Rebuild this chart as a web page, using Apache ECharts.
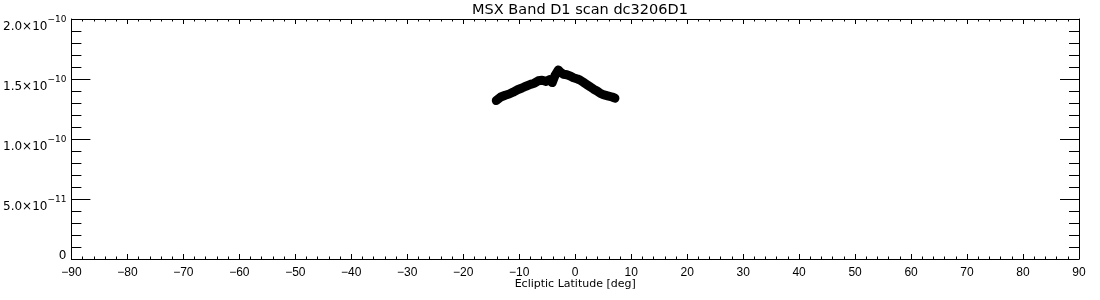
<!DOCTYPE html>
<html><head><meta charset="utf-8">
<script src="https://cdn.jsdelivr.net/npm/echarts@6/dist/echarts.min.js"></script>
<style>html,body{margin:0;padding:0;background:#fff}#c{width:1100px;height:300px}</style>
</head><body><div id="c"></div>
<script>
const titleText = 'MSX Band D1 scan dc3206D1';
const xAxisName = 'Ecliptic Latitude [deg]';
const latitude = [-14.1,-13.3,-12.5,-11.8,-11.1,-10.3,-9.5,-8.8,-8.0,-7.3,-6.6,-5.9,-5.2,-4.6,-4.1,-3.6,-3.0,-2.6,-2.1,-1.5,-0.9,-0.3,0.4,0.9,1.4,2.0,2.7,3.3,3.9,4.5,5.0,5.8,6.6,7.1];
const flux = [1.32e-10,1.35e-10,1.365e-10,1.375e-10,1.39e-10,1.41e-10,1.425e-10,1.44e-10,1.455e-10,1.465e-10,1.485e-10,1.49e-10,1.48e-10,1.495e-10,1.47e-10,1.53e-10,1.575e-10,1.555e-10,1.54e-10,1.535e-10,1.525e-10,1.51e-10,1.5e-10,1.49e-10,1.475e-10,1.455e-10,1.435e-10,1.415e-10,1.4e-10,1.38e-10,1.37e-10,1.36e-10,1.35e-10,1.34e-10];
const yTickMantissa = ['0','5.0×10','1.0×10','1.5×10','2.0×10'];
const yTickExponent = ['','−11','−10','−10','−10'];

const data = latitude.map((x, i) => [x, flux[i]]);
const font = 'DejaVu Sans';
const chart = echarts.init(document.getElementById('c'), null, {renderer: 'canvas'});
const axisCommon = {
  axisLine: {show: true, onZero: false, lineStyle: {color: '#000', width: 1}},
  splitLine: {show: false},
};
chart.setOption({
  animation: false,
  backgroundColor: '#fff',
  title: {
    text: titleText, left: 575, top: -2, textAlign: 'center',
    textStyle: {fontFamily: font, fontSize: 14.5, fontWeight: 'normal', color: '#000'}
  },
  grid: {left: 71, right: 21, top: 19, bottom: 41, containLabel: false},
  xAxis: [
    Object.assign({
      type: 'value', min: -90, max: 90, interval: 10, position: 'bottom',
      axisTick: {show: true, inside: true, length: 5, lineStyle: {color: '#000'}},
      minorTick: {show: true, splitNumber: 5, length: 2.5, lineStyle: {color: '#000'}},
      axisLabel: {
        margin: 8, fontFamily: 'Liberation Sans', fontSize: 12, color: '#000',
        formatter: v => (v < 0 ? '\u2212' + Math.abs(v) : String(v))
      },
      name: xAxisName, nameLocation: 'middle', nameGap: 20, nameMoveOverlap: false,
      nameTextStyle: {fontFamily: font, fontSize: 11, color: '#000'}
    }, axisCommon),
    Object.assign({
      type: 'value', min: -90, max: 90, interval: 10, position: 'top',
      axisTick: {show: true, inside: true, length: 5, lineStyle: {color: '#000'}},
      minorTick: {show: true, splitNumber: 5, length: 2.5, lineStyle: {color: '#000'}},
      axisLabel: {show: false}
    }, axisCommon)
  ],
  yAxis: [
    Object.assign({
      type: 'value', min: 0, max: 2e-10, interval: 5e-11, position: 'left',
      axisTick: {show: true, inside: true, length: 19, lineStyle: {color: '#000'}},
      minorTick: {show: true, splitNumber: 5, length: 10, lineStyle: {color: '#000'}},
      axisLabel: {
        margin: 5, color: '#000', padding: [10, 0, 0, 0],
        formatter: (v, i) => yTickExponent[i] ? '{m|' + yTickMantissa[i] + '}{e|' + yTickExponent[i] + '}' : '{z|' + yTickMantissa[i] + '}',
        rich: {
          m: {fontFamily: font, fontSize: 12, color: '#000', lineHeight: 18, verticalAlign: 'bottom'},
          e: {fontFamily: font, fontSize: 9, color: '#000', lineHeight: 18, verticalAlign: 'top'},
          z: {fontFamily: font, fontSize: 12, color: '#000', padding: [0, 0, 16, 0]}
        }
      }
    }, axisCommon),
    Object.assign({
      type: 'value', min: 0, max: 2e-10, interval: 5e-11, position: 'right',
      axisTick: {show: true, inside: true, length: 19, lineStyle: {color: '#000'}},
      minorTick: {show: true, splitNumber: 5, length: 10, lineStyle: {color: '#000'}},
      axisLabel: {show: false}
    }, axisCommon)
  ],
  series: [{
    type: 'line', xAxisIndex: 0, yAxisIndex: 0, data: data,
    showSymbol: false, symbol: 'none',
    lineStyle: {color: '#000', width: 9, join: 'round', cap: 'round'}
  }]
});
</script>
</body></html>
